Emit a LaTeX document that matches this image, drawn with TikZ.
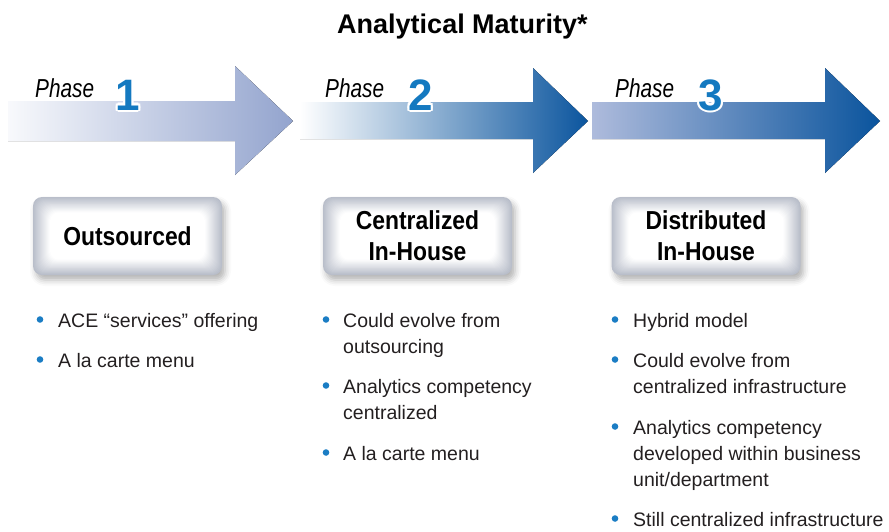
\documentclass[tikz,border=0pt]{standalone}
\usepackage{fontspec}
\setmainfont{Liberation Sans}
\newfontfamily\boxfont[FakeStretch=0.88]{Liberation Sans}
\newfontfamily\phasefont[FakeStretch=0.8]{Liberation Sans}
\usetikzlibrary{calc,shadows.blur}
\definecolor{numblue}{HTML}{1479C0}
\definecolor{dotblue}{HTML}{1B7DC4}
\definecolor{textdark}{HTML}{231F20}
\definecolor{boxgray}{HTML}{B9BECA}
\definecolor{aoneL}{HTML}{F8F9FC}
\definecolor{aoneM}{HTML}{CDD4E8}
\definecolor{aoneR}{HTML}{93A4CE}
\definecolor{atwoM}{HTML}{8A9FCB}
\definecolor{atwoR}{HTML}{0B559E}
\definecolor{athrL}{HTML}{AEBBDC}
\definecolor{athrM}{HTML}{3A68AB}
\definecolor{athrR}{HTML}{0A549D}
\newcommand\hcopy[3]{\makebox[0pt][l]{\hspace*{#1}\raisebox{#2}{\color{white}#3}}}
\newcommand\haloed[1]{%
  \hcopy{2.2pt}{0pt}{#1}\hcopy{-2.2pt}{0pt}{#1}\hcopy{0pt}{2.2pt}{#1}\hcopy{0pt}{-2.2pt}{#1}%
  \hcopy{1.9pt}{1.1pt}{#1}\hcopy{1.1pt}{1.9pt}{#1}\hcopy{-1.1pt}{1.9pt}{#1}\hcopy{-1.9pt}{1.1pt}{#1}%
  \hcopy{-1.9pt}{-1.1pt}{#1}\hcopy{-1.1pt}{-1.9pt}{#1}\hcopy{1.1pt}{-1.9pt}{#1}\hcopy{1.9pt}{-1.1pt}{#1}%
  \textcolor{numblue}{#1}}
\begin{document}
\begin{tikzpicture}[x=1pt,y=-1pt,
  phasebox/.style={rounded corners=9pt, minimum width=189pt, minimum height=78pt,
    inner sep=0pt, align=center, text=black,
    font=\boxfont\bfseries\fontsize{26}{31}\selectfont, fill=boxgray,
    blur shadow={shadow xshift=3pt, shadow yshift=-5pt, shadow blur radius=6pt, shadow opacity=30},
    path picture={\foreach \i in {1,...,18}{\pgfmathtruncatemacro\p{min(100,\i*6)}
      \fill[white!\p!boxgray, rounded corners=9pt]
        ($(path picture bounding box.north west)+(\i*1.0,\i*0.9)$) rectangle
        ($(path picture bounding box.south east)+(-\i*1.0,-\i*0.9)$);}}},
  phaselbl/.style={anchor=base west, inner sep=0pt, text=black,
    font=\phasefont\itshape\fontsize{26}{30}\selectfont},
  numlbl/.style={anchor=base, inner sep=0pt, font=\bfseries\fontsize{44}{48}\selectfont},
  btxt/.style={anchor=base west, inner sep=0pt, text=textdark,
    font=\fontsize{19.5}{26}\selectfont},
  bdot/.style={circle, fill=dotblue, minimum size=6.6pt, inner sep=0pt}
]
\useasboundingbox (0,0) rectangle (889,531);

% title
\node[anchor=base, inner sep=0pt, font=\bfseries\fontsize{27}{30}\selectfont] (title) at (462.5,33.5) {Analytical Maturity*};

% arrows
\fill[left color=aoneL, middle color=aoneM, right color=aoneR]
  (8,101) -- (235,101) -- (235,66) -- (293,121) -- (235,175) -- (235,141) -- (8,141) -- cycle;
\fill[left color=white, middle color=atwoM, right color=atwoR]
  (300,102) -- (533,102) -- (533,68) -- (588,121) -- (533,173) -- (533,139) -- (300,139) -- cycle;
\fill[left color=athrL, middle color=athrM, right color=athrR]
  (592,102) -- (825,102) -- (825,68) -- (880,121) -- (825,173) -- (825,139) -- (592,139) -- cycle;

% phase labels
\node[phaselbl] (p1) at (35,97) {Phase};
\node[phaselbl] (p2) at (325,97) {Phase};
\node[phaselbl] (p3) at (615,97) {Phase};

% numbers with white halo
\node[numlbl] (n1) at (128,110) {\haloed{1}};
\node[numlbl] (n2) at (420.5,110) {\haloed{2}};
\node[numlbl] (n3) at (710.5,110) {\haloed{3}};

% boxes
\node[phasebox] (b1) at (127.5,236) {Outsourced};
\node[phasebox] (b2) at (417.5,236) {Centralized\\In-House};
\node[phasebox] (b3) at (706,236) {Distributed\\In-House};

% column 1
\node[bdot] (d1a) at (40,319.5) {};
\node[btxt] (t1a) at (58,327) {ACE “services” offering};
\node[bdot] (d1b) at (40,359.5) {};
\node[btxt] (t1b) at (58,367) {A la carte menu};

% column 2
\node[bdot] (d2a) at (326,319.5) {};
\node[btxt] (t2a) at (343,327) {Could evolve from};
\node[btxt] (t2a2) at (343,353) {outsourcing};
\node[bdot] (d2b) at (326,385.5) {};
\node[btxt] (t2b) at (343,393) {Analytics competency};
\node[btxt] (t2b2) at (343,419) {centralized};
\node[bdot] (d2c) at (326,452.5) {};
\node[btxt] (t2c) at (343,460) {A la carte menu};

% column 3
\node[bdot] (d3a) at (615,319.5) {};
\node[btxt] (t3a) at (633,327) {Hybrid model};
\node[bdot] (d3b) at (615,359.5) {};
\node[btxt] (t3b) at (633,367) {Could evolve from};
\node[btxt] (t3b2) at (633,393) {centralized infrastructure};
\node[bdot] (d3c) at (615,426.5) {};
\node[btxt] (t3c) at (633,434) {Analytics competency};
\node[btxt] (t3c2) at (633,460) {developed within business};
\node[btxt] (t3c3) at (633,486) {unit/department};
\node[bdot] (d3d) at (615,518.5) {};
\node[btxt] (t3d) at (633,526) {Still centralized infrastructure};
\end{tikzpicture}
\end{document}
